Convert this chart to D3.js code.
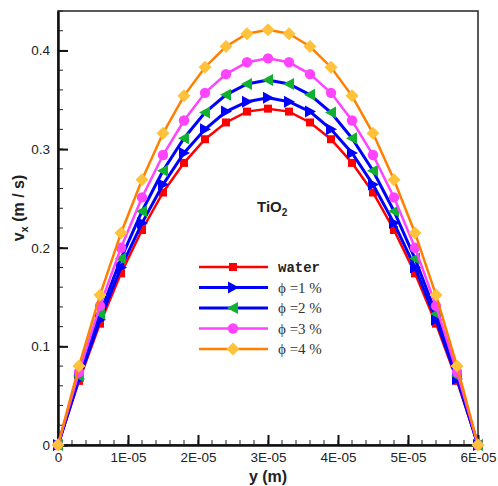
<!DOCTYPE html>
<html>
<head>
<meta charset="utf-8">
<script src="https://cdn.jsdelivr.net/npm/d3@7"></script>
<style>
  body { margin: 0; background: #fff; }
  svg { display: block; }
</style>
</head>
<body>
<svg width="498" height="486"></svg>
<script>
// positions along the channel (m)
var yPos = [0, 3e-6, 6e-6, 9e-6, 12e-6, 15e-6, 18e-6, 21e-6, 24e-6, 27e-6, 30e-6,
            33e-6, 36e-6, 39e-6, 42e-6, 45e-6, 48e-6, 51e-6, 54e-6, 57e-6, 60e-6];

var water = [0, 0.065, 0.123, 0.174, 0.218, 0.256, 0.286, 0.310, 0.327, 0.338, 0.341,
             0.338, 0.327, 0.310, 0.286, 0.256, 0.218, 0.174, 0.123, 0.065, 0];
var phi1  = [0, 0.067, 0.127, 0.180, 0.225, 0.264, 0.296, 0.320, 0.338, 0.348, 0.352,
             0.348, 0.338, 0.320, 0.296, 0.264, 0.225, 0.180, 0.127, 0.067, 0];
var phi2  = [0, 0.070, 0.133, 0.189, 0.237, 0.278, 0.311, 0.337, 0.355, 0.366, 0.370,
             0.366, 0.355, 0.337, 0.311, 0.278, 0.237, 0.189, 0.133, 0.070, 0];
var phi3  = [0, 0.074, 0.141, 0.200, 0.251, 0.294, 0.329, 0.357, 0.376, 0.388, 0.392,
             0.388, 0.376, 0.357, 0.329, 0.294, 0.251, 0.200, 0.141, 0.074, 0];
var phi4  = [0, 0.080, 0.152, 0.215, 0.269, 0.316, 0.354, 0.383, 0.404, 0.417, 0.421,
             0.417, 0.404, 0.383, 0.354, 0.316, 0.269, 0.215, 0.152, 0.080, 0];

var seriesNames = ['water', '\u03d5 =1 %', '\u03d5 =2 %', '\u03d5 =3 %', '\u03d5 =4 %'];
var xTicks = [0, 1e-5, 2e-5, 3e-5, 4e-5, 5e-5, 6e-5];
var xTickLabels = ['0', '1E-05', '2E-05', '3E-05', '4E-05', '5E-05', '6E-05'];
var yTicks = [0, 0.1, 0.2, 0.3, 0.4];
var yTickLabels = ['0', '0.1', '0.2', '0.3', '0.4'];

var series = [
  {name: seriesNames[0], values: water, line: '#ff0000', fill: '#ff0000', shape: 'square'},
  {name: seriesNames[1], values: phi1,  line: '#0000ff', fill: '#0000ff', shape: 'right'},
  {name: seriesNames[2], values: phi2,  line: '#0000ff', fill: '#10b030', shape: 'left'},
  {name: seriesNames[3], values: phi3,  line: '#ff44ff', fill: '#ff44ff', shape: 'circle'},
  {name: seriesNames[4], values: phi4,  line: '#ff8000', fill: '#ffc23a', shape: 'diamond'}
];

var svg = d3.select('svg');
var margin = {left: 58, right: 20, top: 11, bottom: 41};
var W = 498 - margin.left - margin.right;
var H = 486 - margin.top - margin.bottom;

var x = d3.scaleLinear().domain([0, 6e-5]).range([margin.left, margin.left + W]);
var y = d3.scaleLinear().domain([0, 0.44]).range([margin.top + H, margin.top]);

function markerPath(shape) {
  if (shape == 'square') return 'M-4,-4L4,-4L4,4L-4,4Z';
  if (shape == 'right') return 'M-5,-6L6,0L-5,6Z';
  if (shape == 'left') return 'M5,-6L-6,0L5,6Z';
  if (shape == 'diamond') return 'M0,-6.5L6.5,0L0,6.5L-6.5,0Z';
  return d3.symbol().type(d3.symbolCircle).size(85)();
}

// frame
svg.append('rect')
  .attr('x', margin.left).attr('y', margin.top)
  .attr('width', W).attr('height', H)
  .attr('fill', 'none').attr('stroke', '#222').attr('stroke-width', 1.5);

// minor ticks
var xMinor = d3.range(0, 31).map(function(i) { return i * 2e-6; });
var yMinor = d3.range(0, 23).map(function(i) { return i * 0.02; });

var ax = svg.append('g');
ax.selectAll('.xmin').data(xMinor).enter().append('line')
  .attr('x1', function(d) { return x(d); }).attr('x2', function(d) { return x(d); })
  .attr('y1', y(0)).attr('y2', y(0) - 5)
  .attr('stroke', '#222').attr('stroke-width', 1);
ax.selectAll('.ymin').data(yMinor).enter().append('line')
  .attr('x1', x(0)).attr('x2', x(0) + 5)
  .attr('y1', function(d) { return y(d); }).attr('y2', function(d) { return y(d); })
  .attr('stroke', '#222').attr('stroke-width', 1);

// major ticks via d3 axes, pointing inwards
var xAxis = d3.axisBottom(x).tickValues(xTicks)
  .tickFormat(function(d, i) { return xTickLabels[i]; })
  .tickSizeInner(-10).tickSizeOuter(0).tickPadding(7);
var gx = svg.append('g').attr('transform', 'translate(0,' + y(0) + ')').call(xAxis);
gx.select('.domain').attr('stroke', '#111').attr('stroke-width', 2.5);
gx.selectAll('.tick line').attr('stroke', '#111').attr('stroke-width', 2);
gx.selectAll('.tick text').attr('font-family', 'Liberation Sans, Arial, sans-serif')
  .attr('font-size', 13.5).attr('fill', '#222');

var yAxis = d3.axisLeft(y).tickValues(yTicks)
  .tickFormat(function(d, i) { return yTickLabels[i]; })
  .tickSizeInner(-10).tickSizeOuter(0).tickPadding(8);
var gy = svg.append('g').attr('transform', 'translate(' + x(0) + ',0)').call(yAxis);
gy.select('.domain').attr('stroke', '#111').attr('stroke-width', 2.5);
gy.selectAll('.tick line').attr('stroke', '#111').attr('stroke-width', 2);
gy.selectAll('.tick text').attr('font-family', 'Liberation Sans, Arial, sans-serif')
  .attr('font-size', 13.5).attr('fill', '#222');

// curves
var line = d3.line()
  .x(function(d, i) { return x(yPos[i]); })
  .y(function(d) { return y(d); });

var plot = svg.append('g');
series.forEach(function(s) {
  plot.append('path')
    .attr('d', line(s.values))
    .attr('fill', 'none')
    .attr('stroke', s.line)
    .attr('stroke-width', s.line == '#0000ff' ? 3 : 2.5);
  plot.selectAll(null).data(s.values).enter().append('path')
    .attr('transform', function(d, i) { return 'translate(' + x(yPos[i]) + ',' + y(d) + ')'; })
    .attr('d', markerPath(s.shape))
    .attr('fill', s.fill);
});

// legend
var lg = svg.append('g');
series.forEach(function(s, i) {
  var ly = 267 + i * 20.5;
  lg.append('line')
    .attr('x1', 199).attr('x2', 268).attr('y1', ly).attr('y2', ly)
    .attr('stroke', s.line).attr('stroke-width', s.line == '#0000ff' ? 3 : 2.5);
  lg.append('path')
    .attr('transform', 'translate(233,' + ly + ')')
    .attr('d', markerPath(s.shape))
    .attr('fill', s.fill);
  var t = lg.append('text')
    .attr('x', 278).attr('y', ly + 5)
    .attr('fill', '#333')
    .text(s.name);
  if (i == 0) {
    t.attr('font-family', 'Liberation Mono, Courier New, monospace')
      .attr('font-weight', 'bold').attr('font-size', 14).attr('fill', '#222');
  } else {
    t.attr('font-family', 'Liberation Serif, DejaVu Serif, serif').attr('font-size', 15);
  }
});

// TiO2 label
var tio = svg.append('text')
  .attr('x', 257).attr('y', 212)
  .attr('font-family', 'Liberation Sans, Arial, sans-serif')
  .attr('font-weight', 'bold').attr('font-size', 15).attr('fill', '#222');
tio.append('tspan').text('TiO');
tio.append('tspan').attr('dy', 4).attr('font-size', 10).text('2');

// axis titles
svg.append('text')
  .attr('x', x(3e-5)).attr('y', 482)
  .attr('text-anchor', 'middle')
  .attr('font-family', 'Liberation Sans, Arial, sans-serif')
  .attr('font-weight', 'bold').attr('font-size', 16).attr('fill', '#222')
  .text('y (m)');

var yt = svg.append('text')
  .attr('transform', 'translate(24,208) rotate(-90)')
  .attr('text-anchor', 'middle')
  .attr('font-family', 'Liberation Sans, Arial, sans-serif')
  .attr('font-weight', 'bold').attr('font-size', 16).attr('fill', '#222');
yt.append('tspan').text('v');
yt.append('tspan').attr('dy', 4).attr('font-size', 11).text('x');
yt.append('tspan').attr('dy', -4).text(' (m / s)');
</script>
</body>
</html>
